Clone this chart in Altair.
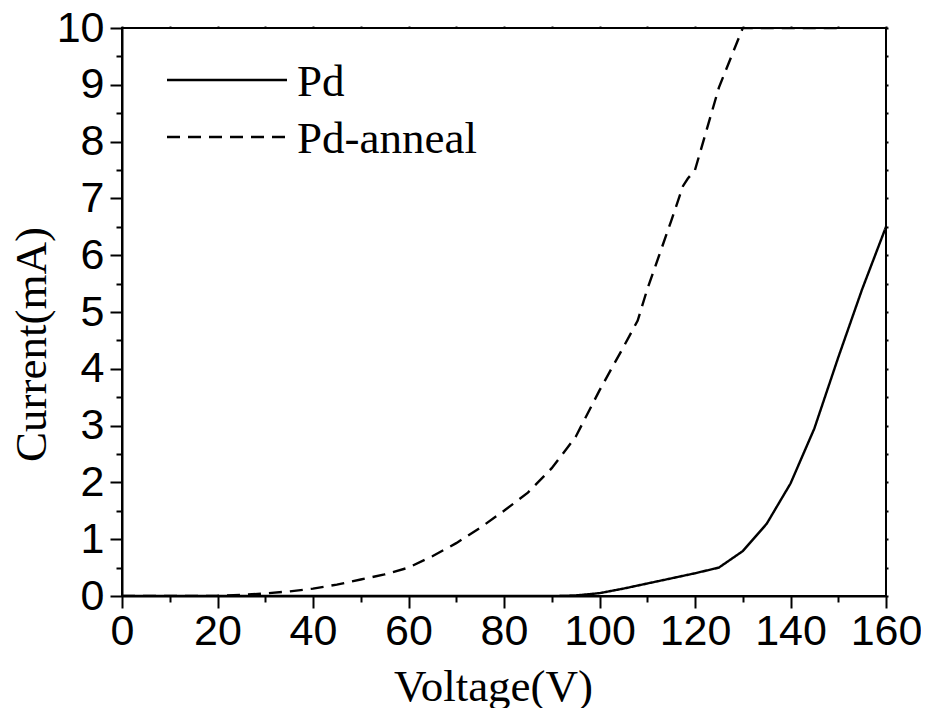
import altair as alt
import pandas as pd

voltage_pd = [0, 10, 20, 30, 40, 50, 60, 70, 80, 90, 95, 100, 105, 110, 115, 120, 125, 130, 135, 140, 145, 150, 155, 160]
current_pd = [0, 0, 0, 0, 0, 0, 0, 0, 0, 0, 0.01, 0.05, 0.13, 0.22, 0.31, 0.4, 0.5, 0.79, 1.27, 1.98, 2.95, 4.2, 5.4, 6.5]

voltage_anneal = [0, 10, 15, 20, 25, 30, 35, 40, 45, 50, 55, 60, 65, 70, 75, 80, 85, 90, 95, 100, 105, 108,
                  110, 115, 117.5, 118.5, 120, 125, 130, 135, 140, 145, 150]
current_anneal = [0, 0, 0, 0.005, 0.02, 0.045, 0.08, 0.13, 0.2, 0.29, 0.38, 0.5, 0.7, 0.93, 1.2, 1.5, 1.82, 2.25,
                  2.8, 3.62, 4.38, 4.85, 5.4, 6.6, 7.22, 7.35, 7.5, 8.95, 10, 10, 10, 10, 10]

series_names = ["Pd", "Pd-anneal"]
x_major = [0, 20, 40, 60, 80, 100, 120, 140, 160]
x_minor = [10, 30, 50, 70, 90, 110, 130, 150]
y_major = [0, 1, 2, 3, 4, 5, 6, 7, 8, 9, 10]
y_minor = [0.5, 1.5, 2.5, 3.5, 4.5, 5.5, 6.5, 7.5, 8.5, 9.5]
x_all = sorted(x_major + x_minor)
y_all = sorted(y_major + y_minor)

df = pd.concat([
    pd.DataFrame({"V": voltage_pd, "I": current_pd, "series": series_names[0], "order": range(len(voltage_pd))}),
    pd.DataFrame({"V": voltage_anneal, "I": current_anneal, "series": series_names[1], "order": range(len(voltage_anneal))}),
])

SANS = "Liberation Sans"
SERIF = "Liberation Serif"
DASHES = [[1, 0], [13, 8]]
LW = 2.4

xscale = alt.Scale(domain=[0, 160], nice=False, zero=False)
yscale = alt.Scale(domain=[0, 10], nice=False, zero=False)

main = alt.Chart(df).mark_line(color="black", strokeWidth=LW, clip=True).encode(
    x=alt.X("V:Q", scale=xscale, axis=alt.Axis(
        orient="bottom", values=x_major, tickSize=12, tickWidth=2, tickColor="black",
        domain=True, domainColor="black", domainWidth=2, grid=False,
        labelFont=SANS, labelFontSize=43, labelColor="black", labelPadding=2,
        labelOverlap=False, labelFlush=False, labelBound=False,
        title="Voltage(V)", titleFont=SERIF, titleFontSize=45, titleFontWeight="normal",
        titleColor="black", titleX=371, titleY=104, titleBaseline="alphabetic", titleAlign="center")),
    y=alt.Y("I:Q", scale=yscale, axis=alt.Axis(
        orient="left", values=y_major, tickSize=12, tickWidth=2, tickColor="black",
        domain=True, domainColor="black", domainWidth=2, grid=False,
        labelFont=SANS, labelFontSize=43, labelColor="black", labelPadding=6,
        labelOverlap=False, labelFlush=False, labelBound=False,
        title="Current(mA)", titleFont=SERIF, titleFontSize=45, titleFontWeight="normal",
        titleColor="black", titleX=-68, titleY=316, titleAngle=-90, titleBaseline="bottom", titleAlign="center")),
    strokeDash=alt.StrokeDash("series:N", scale=alt.Scale(domain=series_names, range=DASHES), legend=None),
    order="order:Q",
)

minor = alt.Chart(df).mark_line(strokeOpacity=0).encode(
    x=alt.X("V:Q", scale=xscale, axis=alt.Axis(
        orient="bottom", values=x_minor, tickSize=6, tickWidth=2, tickColor="black",
        domain=False, grid=False, labels=False, title=None)),
    y=alt.Y("I:Q", scale=yscale, axis=alt.Axis(
        orient="left", values=y_minor, tickSize=6, tickWidth=2, tickColor="black",
        domain=False, grid=False, labels=False, title=None)),
    detail="series:N",
)

opposite = alt.Chart(df).mark_line(strokeOpacity=0).encode(
    x=alt.X("V:Q", scale=xscale, axis=alt.Axis(
        orient="top", values=x_all, tickSize=2, tickWidth=2, tickColor="black",
        domain=False, grid=False, labels=False, title=None)),
    y=alt.Y("I:Q", scale=yscale, axis=alt.Axis(
        orient="right", values=y_all, tickSize=2, tickWidth=2, tickColor="black",
        domain=False, grid=False, labels=False, title=None)),
    detail="series:N",
)

# legend (drawn in pixel layout space)
legend_layers = []
legend_rows_y = [52, 109]
for name, dash, ly in zip(series_names, DASHES, legend_rows_y):
    one = pd.DataFrame({"label": [name]})
    legend_layers.append(
        alt.Chart(one).mark_rule(color="black", strokeWidth=LW, strokeDash=dash).encode(
            x=alt.value(45), x2=alt.value(165), y=alt.value(ly))
    )
    legend_layers.append(
        alt.Chart(one).mark_text(font=SERIF, fontSize=45, color="black", align="left",
                                 baseline="alphabetic").encode(
            x=alt.value(175), y=alt.value(ly + 16), text="label:N")
    )

chart = alt.layer(main, minor, opposite, *legend_layers).resolve_axis(
    x="independent", y="independent"
).properties(
    width=764, height=568,
    autosize=alt.AutoSizeParams(type="none"),
    padding={"left": 114, "top": 20, "right": 35, "bottom": 112},
).configure_view(stroke="black", strokeWidth=2)

chart.save("out.html", embed_options={"renderer": "svg", "actions": False})
